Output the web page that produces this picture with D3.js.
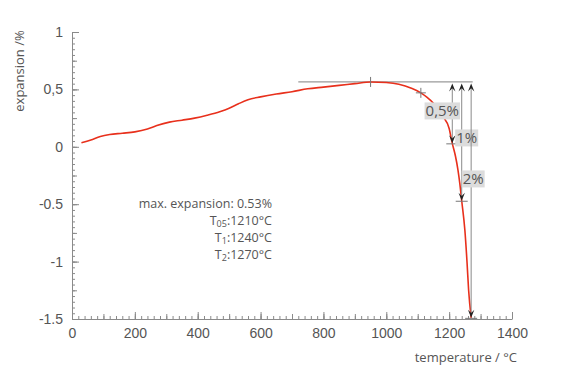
<!DOCTYPE html>
<html>
<head>
<meta charset="utf-8">
<script src="https://cdn.jsdelivr.net/npm/d3@7"></script>
<style>
  body { margin: 0; background: #fff; }
  svg { display: block; font-family: "Open Sans", "Noto Sans", sans-serif; }
</style>
</head>
<body>
<svg id="chart" width="576" height="384"></svg>
<script>
// dilatometer curve
const temperature = [30, 60, 90, 120, 160, 200, 240, 270, 310, 350, 390, 430, 470, 500, 530, 560, 600, 650, 700, 750, 800, 850, 900, 950, 1000, 1040, 1080, 1110, 1130, 1150, 1180, 1200, 1210, 1220, 1228, 1234, 1240, 1250, 1257, 1262, 1270];
const expansion   = [0.035, 0.06, 0.09, 0.107, 0.118, 0.13, 0.155, 0.185, 0.215, 0.232, 0.25, 0.275, 0.305, 0.335, 0.375, 0.41, 0.435, 0.46, 0.48, 0.505, 0.52, 0.535, 0.55, 0.565, 0.56, 0.545, 0.51, 0.47, 0.43, 0.38, 0.265, 0.16, 0.03, -0.08, -0.2, -0.32, -0.47, -0.725, -1.01, -1.25, -1.49];

const peakT = 950, peakE = 0.565;
const refLine = [720, 1275];
const kneeT = 1110, kneeE = 0.47;

// shrinkage points: T05, T1, T2
const shrinkT = [1210, 1240, 1270];
const shrinkE = [0.03, -0.47, -1.49];
const shrinkLabels = ["0,5%", "1%", "2%"];

const xTicks = [0, 200, 400, 600, 800, 1000, 1200, 1400];
const yTicks = [1, 0.5, 0, -0.5, -1, -1.5];
const yTickLabels = ["1", "0,5", "0", "-0.5", "-1", "-1.5"];

const infoLines = [
  ["max. expansion: 0.53%", ""],
  ["T", "05", ":1210°C"],
  ["T", "1", ":1240°C"],
  ["T", "2", ":1270°C"]
];

const svg = d3.select("#chart");
const x = d3.scaleLinear([0, 1400], [72, 512]);
const y = d3.scaleLinear([-1.5, 1], [319, 32]);
const axisColor = "#8a8a8a", textColor = "#555";

// minor ticks
svg.append("g").attr("transform", `translate(${x(0)},0)`)
  .call(d3.axisLeft(y).tickValues(d3.range(-30, 21).map(k => k * 0.05)).tickSize(-3).tickFormat(""))
  .call(g => g.select(".domain").remove());
svg.append("g").attr("transform", `translate(${x(0)},0)`)
  .call(d3.axisLeft(y).tickValues(d3.range(-6, 5).map(k => k * 0.25)).tickSize(-5).tickFormat(""))
  .call(g => g.select(".domain").remove());
svg.append("g").attr("transform", `translate(0,${y(-1.5)})`)
  .call(d3.axisBottom(x).tickValues(d3.range(0, 71).map(k => k * 20)).tickSize(-3).tickFormat(""))
  .call(g => g.select(".domain").remove());
svg.append("g").attr("transform", `translate(0,${y(-1.5)})`)
  .call(d3.axisBottom(x).tickValues(d3.range(0, 15).map(k => k * 100)).tickSize(-5).tickFormat(""))
  .call(g => g.select(".domain").remove());

// major axes
svg.append("g").attr("transform", `translate(${x(0)},0)`)
  .call(d3.axisLeft(y).tickValues(yTicks).tickFormat((d, i) => yTickLabels[i]).tickSize(-7).tickPadding(9).tickSizeOuter(0))
  .call(g => g.selectAll("text").attr("font-size", 14).attr("font-family", null));
svg.append("g").attr("transform", `translate(0,${y(-1.5)})`)
  .call(d3.axisBottom(x).tickValues(xTicks).tickFormat(d3.format("d")).tickSize(-7).tickPadding(9).tickSizeOuter(0))
  .call(g => g.selectAll("text").attr("font-size", 14).attr("font-family", null));

svg.selectAll(".domain, .tick line").attr("stroke", axisColor);
svg.selectAll(".tick text").attr("fill", textColor);

// axis titles
svg.append("text")
  .attr("transform", `translate(24,71) rotate(-90)`)
  .attr("text-anchor", "middle").attr("font-size", 13).attr("fill", textColor)
  .text("expansion /%");
svg.append("text")
  .attr("x", x(1400) + 5).attr("y", 362)
  .attr("text-anchor", "end").attr("font-size", 13).attr("fill", textColor)
  .text("temperature / °C");

// reference line at max expansion
svg.append("line")
  .attr("x1", x(refLine[0])).attr("x2", x(refLine[1]))
  .attr("y1", y(peakE)).attr("y2", y(peakE))
  .attr("stroke", "#9a9a9a").attr("stroke-width", 1.2);

// curve
const pts = temperature.map((t, i) => [t, expansion[i]]);
const line = d3.line().x(d => x(d[0])).y(d => y(d[1])).curve(d3.curveMonotoneX);
svg.append("path").datum(pts)
  .attr("d", line).attr("fill", "none")
  .attr("stroke", "#e8301c").attr("stroke-width", 1.6);

// marker crosses
const cross = svg.append("g").attr("stroke", "#777").attr("stroke-width", 1);
cross.append("line").attr("x1", x(peakT)).attr("x2", x(peakT))
  .attr("y1", y(peakE) - 5).attr("y2", y(peakE) + 5);
cross.append("line").attr("x1", x(kneeT)).attr("x2", x(kneeT))
  .attr("y1", y(kneeE) - 5).attr("y2", y(kneeE) + 5);
cross.append("line").attr("x1", x(kneeT) - 5).attr("x2", x(kneeT) + 5)
  .attr("y1", y(kneeE)).attr("y2", y(kneeE));

// shrinkage arrows
const head = (cx, tipY, dir) => {
  const h = 8 * dir, w = 3.2;
  return `M${cx},${tipY} L${cx - w},${tipY + h} L${cx},${tipY + h * 0.6} L${cx + w},${tipY + h} Z`;
};
const labelOffsets = [[-10, 29], [5, 56], [2, 97]];
shrinkT.forEach((t, i) => {
  const cx = x(t), top = y(peakE) + 1.5, bot = y(shrinkE[i]);
  svg.append("line").attr("x1", cx).attr("x2", cx).attr("y1", top + 4).attr("y2", bot - 4)
    .attr("stroke", "#8a8a8a").attr("stroke-width", 1);
  svg.append("path").attr("d", head(cx, top, 1)).attr("fill", "#222");
  svg.append("path").attr("d", head(cx, bot, -1)).attr("fill", "#222");
  svg.append("line").attr("x1", cx - 6).attr("x2", cx + 6).attr("y1", bot + 0.5).attr("y2", bot + 0.5)
    .attr("stroke", "#777").attr("stroke-width", 1);

  const lx = cx + labelOffsets[i][0], ly = y(peakE) + labelOffsets[i][1];
  const g = svg.append("g");
  const txt = g.append("text").attr("x", lx).attr("y", ly + 5.5)
    .attr("text-anchor", "middle").attr("font-size", 15).attr("fill", textColor)
    .text(shrinkLabels[i]);
  const bb = txt.node().getBBox();
  g.insert("rect", "text")
    .attr("x", bb.x - 1).attr("y", ly - 8.5).attr("width", bb.width + 2).attr("height", 17)
    .attr("fill", "#dcdcdc");
});

// info text
const info = svg.append("g").attr("font-size", 12.5).attr("fill", textColor).attr("text-anchor", "end");
infoLines.forEach((l, i) => {
  const t = info.append("text").attr("x", 272).attr("y", 208 + i * 17);
  if (i === 0) { t.text(l[0]); return; }
  t.append("tspan").text(l[0]);
  t.append("tspan").attr("font-size", 9).attr("dy", 2).text(l[1]);
  t.append("tspan").attr("dy", -2).text(l[2]);
});
</script>
</body>
</html>
